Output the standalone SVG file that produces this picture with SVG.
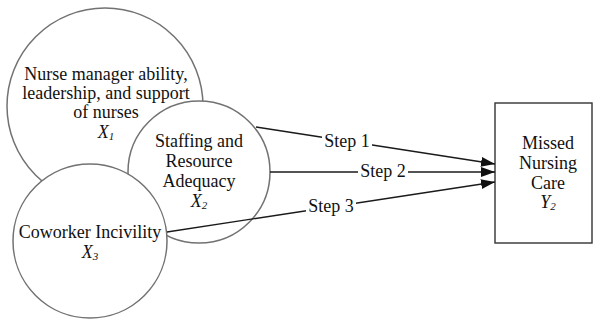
<svg xmlns="http://www.w3.org/2000/svg" width="594" height="320" viewBox="0 0 594 320">
  <defs>
    <marker id="arrow" markerUnits="userSpaceOnUse" markerWidth="14" markerHeight="10" refX="14" refY="5" orient="auto">
      <path d="M0,0 L14,5 L0,10 Z" fill="#111"/>
    </marker>
    <style>
      .node { fill: #fff; stroke: #727272; stroke-width: 1.5; }
      .box { fill: #fff; stroke: #333; stroke-width: 1.4; }
      text { font-family: "Liberation Serif", "Times New Roman", serif; font-size: 18px; fill: #111; text-anchor: middle; }
      .var { font-style: italic; }
      .sub { font-size: 11px; }
      .edge { stroke: #1a1a1a; stroke-width: 1.3; fill: none; marker-end: url(#arrow); }
      .pad { fill: #fff; }
    </style>
  </defs>
  <rect width="594" height="320" fill="#fff"/>

  <!-- X1: nurse manager -->
  <g id="x1">
    <circle class="node" cx="105" cy="106" r="98"/>
    <text x="106" y="80">Nurse manager ability,</text>
    <text x="106" y="99">leadership, and support</text>
    <text x="106" y="118">of nurses</text>
    <text class="var" x="106" y="138">X<tspan class="sub" dy="2">1</tspan></text>
  </g>

  <!-- X2: staffing -->
  <g id="x2">
    <circle class="node" cx="199" cy="172" r="71"/>
    <text x="199" y="147">Staffing and</text>
    <text x="199" y="167">Resource</text>
    <text x="199" y="187">Adequacy</text>
    <text class="var" x="199" y="207">X<tspan class="sub" dy="2">2</tspan></text>
  </g>

  <!-- X3: coworker incivility -->
  <g id="x3">
    <circle class="node" cx="90" cy="241" r="77"/>
    <text x="90" y="238">Coworker Incivility</text>
    <text class="var" x="90" y="258">X<tspan class="sub" dy="2">3</tspan></text>
  </g>

  <!-- Y2: outcome -->
  <g id="y2">
    <rect class="box" x="495" y="103" width="97" height="140"/>
    <text x="548" y="149">Missed</text>
    <text x="548" y="169">Nursing</text>
    <text x="548" y="189">Care</text>
    <text class="var" x="548" y="208">Y<tspan class="sub" dy="2">2</tspan></text>
  </g>

  <!-- connectors with their step labels -->
  <g id="connectors">
    <line class="edge" x1="256" y1="127" x2="495" y2="164"/>
    <line class="edge" x1="270" y1="172" x2="495" y2="172"/>
    <line class="edge" x1="167" y1="232" x2="495" y2="182"/>
    <rect class="pad" x="322" y="133" width="50" height="17"/>
    <rect class="pad" x="358" y="163" width="50" height="17"/>
    <rect class="pad" x="306" y="198" width="50" height="17"/>
    <text x="347" y="147">Step 1</text>
    <text x="383" y="177">Step 2</text>
    <text x="331" y="212">Step 3</text>
  </g>
</svg>
